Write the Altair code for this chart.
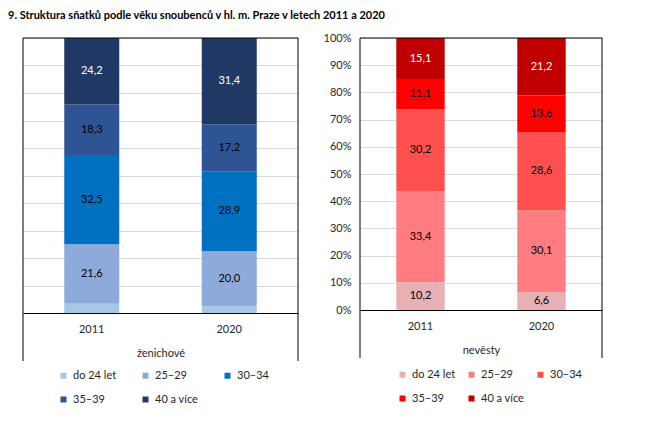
import altair as alt
import pandas as pd

categories = ["do 24 let", "25–29", "30–34", "35–39", "40 a více"]
years = ["2011", "2020"]
grooms_2011 = [3.4, 21.6, 32.5, 18.3, 24.2]
grooms_2020 = [2.5, 20.0, 28.9, 17.2, 31.4]
brides_2011 = [10.2, 33.4, 30.2, 11.1, 15.1]
brides_2020 = [6.6, 30.1, 28.6, 13.6, 21.2]
groom_colors = ["#a5c8e6", "#8eaadb", "#0070c0", "#2f5496", "#1f3864"]
bride_colors = ["#e6b0b4", "#ff7c80", "#ff5050", "#ff0000", "#c00000"]
y_ticks = list(range(0, 101, 10))

FONT = "Lato"
TXT = "#262626"


def make_df(v2011, v2020):
    rows = []
    for year, vals in zip(years, [v2011, v2020]):
        for i, (c, v) in enumerate(zip(categories, vals)):
            rows.append({"year": year, "cat": c, "idx": i, "value": v})
    return pd.DataFrame(rows)


def panel(df, colors, title, W, H, show_y, lx, ly, col_pad):
    base = alt.Chart(df).transform_stack(
        stack="value", groupby=["year"],
        sort=[alt.SortField("idx", "ascending")], as_=["y0", "y1"]
    ).transform_calculate(
        mid="(datum.y0 + datum.y1) / 2",
        label="replace(format(datum.value, '.1f'), '.', ',')",
    )
    xscale = alt.Scale(domain=years, paddingInner=0.6, paddingOuter=0.3)
    xaxis = alt.Axis(
        title=title, labelPadding=10, titlePadding=13, ticks=False,
        domainColor="black", domainWidth=1, labelAngle=0, zindex=1,
        labelFont=FONT, labelFontSize=11, labelColor=TXT,
        titleFont=FONT, titleFontSize=11, titleFontWeight="normal", titleColor=TXT,
    )
    yaxis = alt.Axis(values=y_ticks, grid=True, gridColor="#d9d9d9", domain=False,
                     ticks=False, labels=show_y, labelExpr="datum.value + '%'",
                     labelPadding=9, title=None, labelFont=FONT, labelFontSize=11,
                     labelColor=TXT, labelOverlap=False)
    yscale = alt.Scale(domain=[0, 100], nice=False, clamp=True)
    bars = base.mark_bar().encode(
        x=alt.X("year:N", scale=xscale, axis=xaxis),
        y=alt.Y("y0:Q", scale=yscale, axis=yaxis),
        y2="y1:Q",
        color=alt.Color("cat:N", scale=alt.Scale(domain=categories, range=colors),
                        legend=alt.Legend(
                            orient="none", legendX=lx, legendY=ly, direction="horizontal",
                            columns=3, symbolType="square", symbolSize=36,
                            symbolStrokeWidth=0, labelFont=FONT, labelFontSize=11,
                            labelColor=TXT, title=None, gridAlign="all",
                            columnPadding=col_pad, rowPadding=12, padding=0,
                            labelOffset=4)),
    )
    text = base.transform_filter("datum.value >= 5").mark_text(
        font=FONT, fontSize=11
    ).encode(
        x=alt.X("year:N", scale=xscale, axis=xaxis),
        y=alt.Y("mid:Q", scale=yscale, axis=yaxis),
        text="label:N",
        color=alt.condition("datum.cat == '40 a více'", alt.value("white"), alt.value("black")),
    )
    one = pd.DataFrame({"k": [0]})
    left_line = alt.Chart(one).mark_rule(color="black").encode(
        x=alt.value(0), y=alt.value(0), y2=alt.value(H + 48))
    right_line = alt.Chart(one).mark_rule(color="black").encode(
        x=alt.value(W), y=alt.value(0), y2=alt.value(H + 48))
    top_line = alt.Chart(one).mark_rule(color="black").encode(
        x=alt.value(0), x2=alt.value(W), y=alt.value(0))
    return alt.layer(bars, text, left_line, right_line, top_line).properties(
        width=W, height=H)


left = panel(make_df(grooms_2011, grooms_2020), groom_colors, "ženichové",
             275, 275, False, 35, 332, 23)
right = panel(make_df(brides_2011, brides_2020), bride_colors, "nevěsty",
              242, 272, True, 37, 331, 10)

chart = alt.hconcat(left, right, spacing=62, bounds="flush").resolve_scale(
    color="independent", x="independent", y="independent"
).properties(
    title=alt.TitleParams(
        text="9. Struktura sňatků podle věku snoubenců v hl. m. Praze v letech 2011 a 2020",
        anchor="start", font=FONT, fontSize=11, fontWeight="bold", color="black",
        dx=-15, offset=11.5, frame="group"),
    padding={"top": 1, "left": 0, "right": 0, "bottom": 0},
).configure_view(stroke=None)

chart.save("out.html", embed_options={"renderer": "svg", "actions": False})
